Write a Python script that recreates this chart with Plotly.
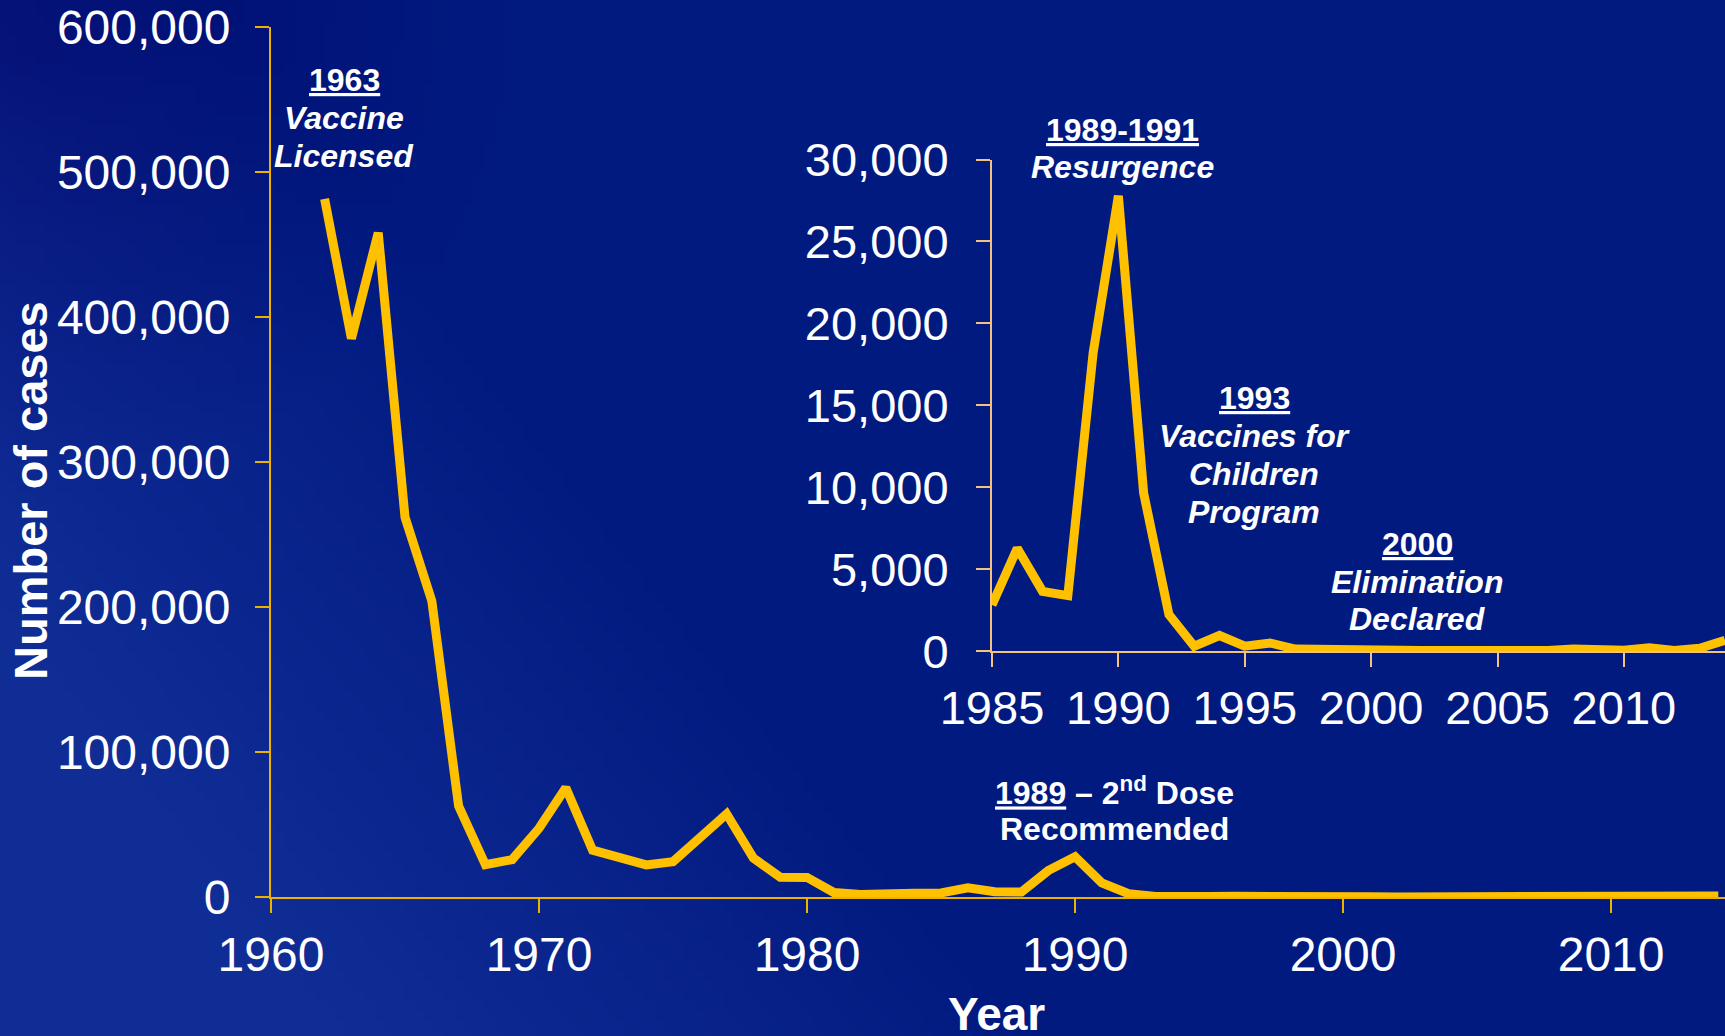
import base64
import struct
import zlib

import numpy as np
import plotly.graph_objects as go

# ---------------- data ----------------
years = list(range(1962, 2015))
cases = [481530, 385156, 458083, 261904, 204136, 62705, 22231, 25826, 47351, 75290,
         32275, 26690, 22094, 24374, 41126, 57345, 26871, 13597, 13506, 3124,
         1714, 1497, 2587, 2822, 6282, 3655, 3396, 18193, 27786, 9643,
         2237, 312, 963, 309, 508, 138, 100, 100, 86, 116,
         44, 56, 37, 66, 55, 43, 140, 71, 63, 220,
         55, 187, 667]

inset_start = 1985
inset_years = [y for y in years if y >= inset_start]
inset_cases = [c for y, c in zip(years, cases) if y >= inset_start]

main_xticks = [1960, 1970, 1980, 1990, 2000, 2010]
main_yticks = [0, 100000, 200000, 300000, 400000, 500000, 600000]
inset_xticks = [1985, 1990, 1995, 2000, 2005, 2010]
inset_yticks = [0, 5000, 10000, 15000, 20000, 25000, 30000]

# ---------------- layout helpers ----------------
W, H = 1725, 1036
L, R, T, B = 271, 0, 27, 139
PW, PH = W - L - R, H - T - B


def px(x):
    return (x - L) / PW


def py(y):
    return (H - B - y) / PH


LINE = "#FFC000"
AXIS = "#EDB100"
INSET_AXIS = "#F3C27E"
BG = "#011A80"
FONT = "Liberation Sans, Arial, sans-serif"


# ---------------- background gradient (style only) ----------------
def gradient_png(w=173, h=104):
    xs = np.linspace(0, W, w)[None, :]
    ys = np.linspace(0, H, h)[:, None]
    u = xs + (H - ys) * 0.8
    t = np.clip(1 - (u - 350) / 700, 0, 1)
    d = np.clip(1 - np.sqrt(xs ** 2 + ys ** 2) / 500, 0, 1)
    base = np.array([1, 26, 128], float)
    light = np.array([15, 19, 22], float)
    dark = np.array([0, 14, 15], float)
    img = base + t[..., None] * light - d[..., None] * dark
    img = np.clip(img, 0, 255).astype(np.uint8)
    raw = b"".join(b"\x00" + img[r].tobytes() for r in range(h))

    def chunk(tag, data):
        c = struct.pack(">I", len(data)) + tag + data
        return c + struct.pack(">I", zlib.crc32(tag + data) & 0xFFFFFFFF)

    png = b"\x89PNG\r\n\x1a\n" + chunk(b"IHDR", struct.pack(">IIBBBBB", w, h, 8, 2, 0, 0, 0)) \
        + chunk(b"IDAT", zlib.compress(raw, 9)) + chunk(b"IEND", b"")
    return "data:image/png;base64," + base64.b64encode(png).decode()


fig = go.Figure()
fig.add_trace(go.Scatter(x=years, y=cases, mode="lines",
                         line=dict(color=LINE, width=9), xaxis="x", yaxis="y",
                         hoverinfo="skip"))
fig.add_trace(go.Scatter(x=inset_years, y=inset_cases, mode="lines",
                         line=dict(color=LINE, width=9), xaxis="x2", yaxis="y2",
                         hoverinfo="skip"))

main_tick = dict(color="white", family=FONT, size=48)
inset_tick = dict(color="white", family=FONT, size=47)

fig.update_layout(
    width=W, height=H,
    margin=dict(l=L, r=R, t=T, b=B, pad=0),
    paper_bgcolor=BG, plot_bgcolor="rgba(0,0,0,0)",
    showlegend=False,
    xaxis=dict(domain=[0, 1], range=[1960, 2014.25], tickvals=main_xticks,
               showgrid=False, zeroline=False, showline=True, linecolor=AXIS, linewidth=2,
               ticks="outside", ticklen=14, tickwidth=2, tickcolor=AXIS,
               tickfont=main_tick, ticklabelstandoff=0, anchor="y"),
    yaxis=dict(domain=[0, 1], range=[0, 600000], tickvals=main_yticks, tickformat=",d",
               showgrid=False, zeroline=False, showline=True, linecolor=AXIS, linewidth=2,
               ticks="outside", ticklen=14, tickwidth=2, tickcolor=AXIS,
               tickfont=main_tick, ticklabelstandoff=15, anchor="x"),
    xaxis2=dict(domain=[px(992), 1], range=[1985, 2014], tickvals=inset_xticks,
                showgrid=False, zeroline=False, showline=True, linecolor=INSET_AXIS, linewidth=2,
                ticks="outside", ticklen=14, tickwidth=2, tickcolor=INSET_AXIS,
                tickfont=inset_tick, ticklabelstandoff=0, anchor="y2"),
    yaxis2=dict(domain=[py(651.3), py(159.5)], range=[0, 30000], tickvals=inset_yticks,
                tickformat=",d",
                showgrid=False, zeroline=False, showline=True, linecolor=INSET_AXIS, linewidth=2,
                ticks="outside", ticklen=14, tickwidth=2, tickcolor=INSET_AXIS,
                tickfont=inset_tick, ticklabelstandoff=18, anchor="x2"),
    images=[dict(source=gradient_png(), xref="paper", yref="paper",
                 x=px(0), y=py(0), sizex=W / PW, sizey=H / PH,
                 xanchor="left", yanchor="top", sizing="stretch", layer="below")],
)

# annotations
anns = [
    ("<b><u>1963</u></b>", 344, 80),
    ("<b><i>Vaccine</i></b>", 344, 118),
    ("<b><i>Licensed</i></b>", 344, 156),
    ("<b><u>1989-1991</u></b>", 1122, 130),
    ("<b><i>Resurgence</i></b>", 1122, 167),
    ("<b><u>1993</u></b>", 1254, 398),
    ("<b><i>Vaccines for</i></b>", 1254, 436),
    ("<b><i>Children</i></b>", 1254, 474),
    ("<b><i>Program</i></b>", 1254, 512),
    ("<b><u>2000</u></b>", 1417, 544),
    ("<b><i>Elimination</i></b>", 1417, 582),
    ("<b><i>Declared</i></b>", 1417, 619),
    ("<b><u>1989</u> – 2<sup>nd</sup> Dose</b>", 1114, 791),
    ("<b>Recommended</b>", 1114, 829),
]
for text, x, y in anns:
    fig.add_annotation(text=text, x=px(x), y=py(y), xref="paper", yref="paper",
                       xanchor="center", yanchor="middle", showarrow=False,
                       font=dict(color="white", family=FONT, size=32))

fig.add_annotation(text="<b>Number of cases</b>", x=px(30), y=py(491), xref="paper", yref="paper",
                   xanchor="center", yanchor="middle", showarrow=False, textangle=-90,
                   font=dict(color="white", family=FONT, size=47))
fig.add_annotation(text="<b>Year</b>", x=px(996), y=py(1014), xref="paper", yref="paper",
                   xanchor="center", yanchor="middle", showarrow=False,
                   font=dict(color="white", family=FONT, size=46))

fig.write_html("out.html")
